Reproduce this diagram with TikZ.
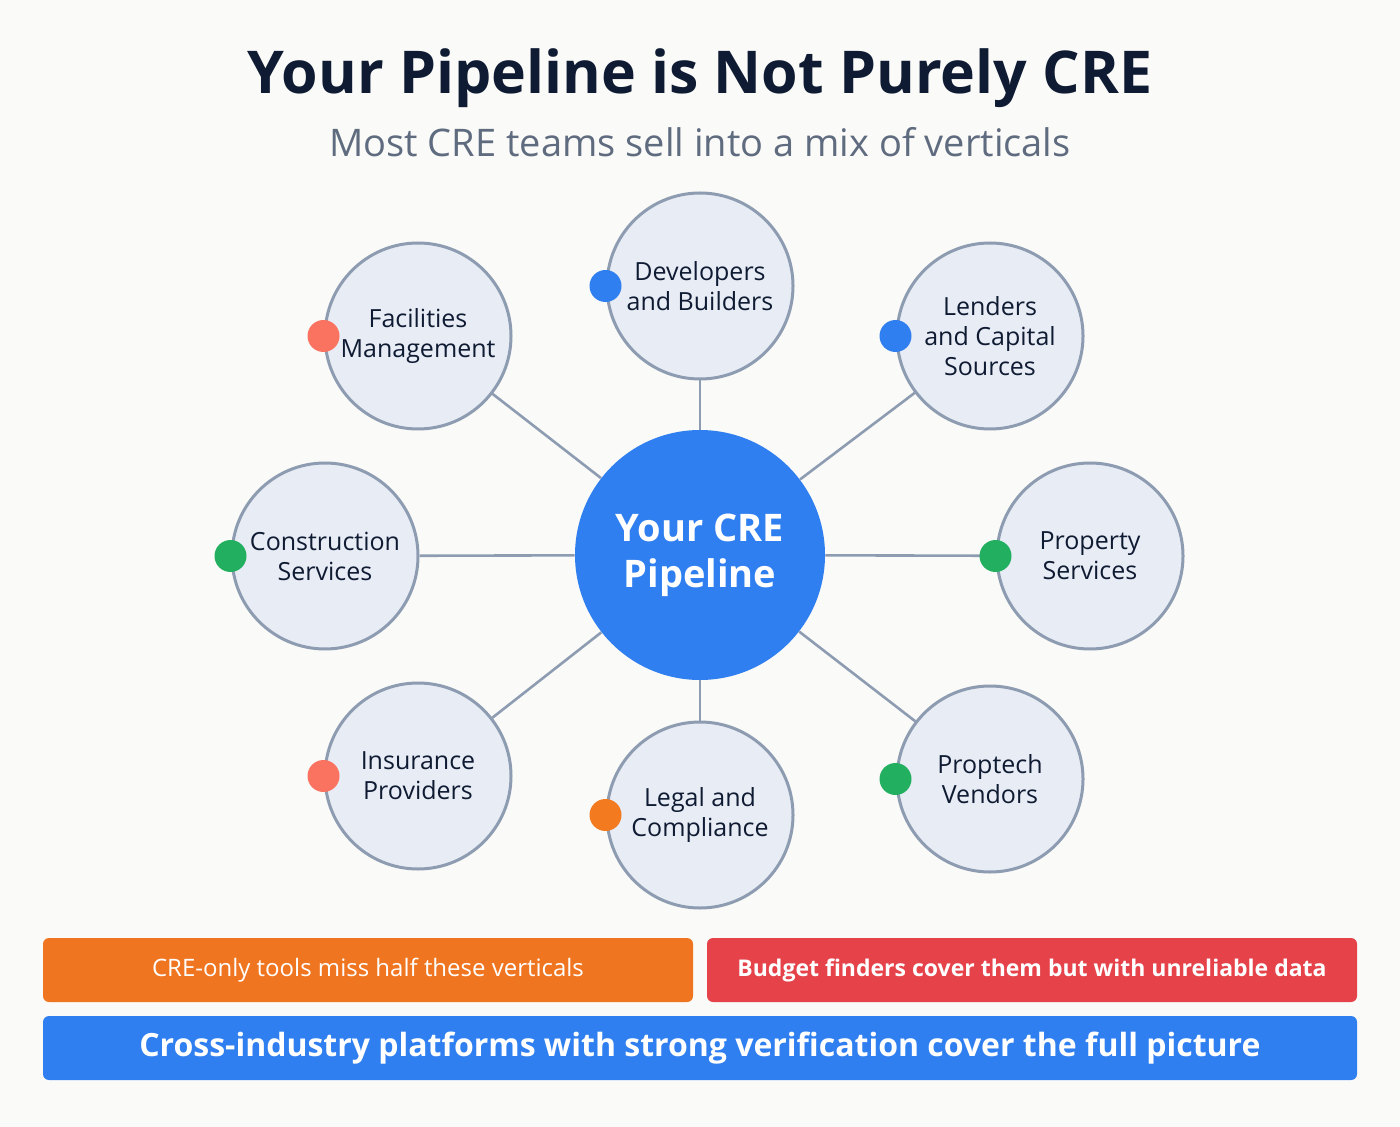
\documentclass[tikz,border=0pt]{standalone}
\usepackage{fontspec}
\setmainfont{Open Sans}
\usetikzlibrary{positioning,backgrounds}
\definecolor{bgcol}{HTML}{FAFAF8}
\definecolor{titlecol}{HTML}{0F1B33}
\definecolor{subcol}{HTML}{5F6B7E}
\definecolor{ringcol}{HTML}{8E9CB2}
\definecolor{ringfill}{HTML}{E8ECF4}
\definecolor{hubcol}{HTML}{2F7FF0}
\definecolor{salmon}{HTML}{F97360}
\definecolor{dotblue}{HTML}{2F7FF0}
\definecolor{dotgreen}{HTML}{22B060}
\definecolor{dotorange}{HTML}{F47A1F}
\definecolor{barorange}{HTML}{F07520}
\definecolor{barred}{HTML}{E5424A}

\begin{document}
\begin{tikzpicture}[x=0.5pt,y=-0.5pt]
  \tikzstyle{vertical}=[circle,draw=ringcol,line width=1.5pt,fill=ringfill,minimum size=93pt,inner sep=0pt,align=center,font=\fontsize{12.5}{15}\selectfont,text=titlecol]
  \tikzstyle{spoke}=[draw=ringcol,line width=1.3pt]
  \tikzstyle{dot}=[circle,fill=#1,minimum size=16pt,inner sep=0pt]
  \tikzstyle{bar}=[rounded corners=3pt,text=white,inner sep=0pt]

  \node[font=\fontsize{29.5}{34}\selectfont\bfseries,text=titlecol] (title) at (700,78) {Your Pipeline is Not Purely CRE};
  \node[font=\fontsize{19}{23}\selectfont,text=subcol] (subtitle) at (700,142) {Most CRE teams sell into a mix of verticals};

  \node[circle,fill=hubcol,minimum size=125pt,inner sep=0pt,align=center,text=white,font=\fontsize{19}{23}\selectfont\bfseries] (hub) at (700,555) {Your CRE\\Pipeline};

  \node[vertical] (dev)   at (700,286) {Developers\\and Builders};
  \node[vertical] (fac)   at (418,336) {Facilities\\Management};
  \node[vertical] (lend)  at (990,336) {Lenders\\and Capital\\Sources};
  \node[vertical] (cons)  at (325,556) {Construction\\Services};
  \node[vertical] (prop)  at (1090,556) {Property\\Services};
  \node[vertical] (ins)   at (418,776) {Insurance\\Providers};
  \node[vertical] (legal) at (700,815) {Legal and\\Compliance};
  \node[vertical] (ptech) at (990,779) {Proptech\\Vendors};

  \begin{scope}[on background layer]
    \fill[bgcol] (0,0) rectangle (1400,1127);
    \foreach \v in {dev,fac,lend,cons,prop,ins,legal,ptech}
      \path[spoke] (hub) -- (\v);
  \end{scope}

  \node[dot=dotblue]   (devdot)   at (dev.west)   {};
  \node[dot=salmon]    (facdot)   at (fac.west)   {};
  \node[dot=dotblue]   (lenddot)  at (lend.west)  {};
  \node[dot=dotgreen]  (consdot)  at (cons.west)  {};
  \node[dot=dotgreen]  (propdot)  at (prop.west)  {};
  \node[dot=salmon]    (insdot)   at (ins.west)   {};
  \node[dot=dotorange] (legaldot) at (legal.west) {};
  \node[dot=dotgreen]  (ptechdot) at (ptech.west) {};

  \fill[bar,barorange] (43,938) rectangle (693,1002);
  \node[text=white,font=\fontsize{12}{14}\selectfont] (miss) at (368,970) {CRE-only tools miss half these verticals};
  \fill[bar,barred] (707,938) rectangle (1357,1002);
  \node[text=white,font=\fontsize{11.5}{14}\selectfont\bfseries] (budget) at (1032,970) {Budget finders cover them but with unreliable data};
  \fill[bar,hubcol] (43,1016) rectangle (1357,1080);
  \node[text=white,font=\fontsize{16}{19}\selectfont\bfseries] (cross) at (700,1048) {Cross-industry platforms with strong verification cover the full picture};
\end{tikzpicture}
\end{document}
